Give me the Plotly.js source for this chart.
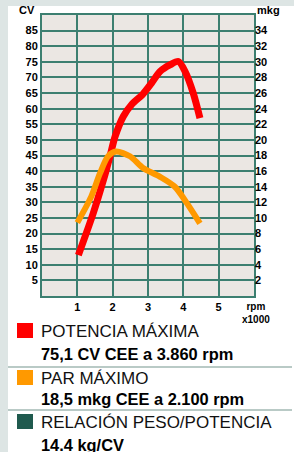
<!DOCTYPE html>
<html>
<head>
<meta charset="utf-8">
<script src="https://cdn.plot.ly/plotly-3.0.1.min.js"></script>
<style>
html,body{margin:0;padding:0;background:#dde5e4;width:294px;height:452px;overflow:hidden;}
#panel{position:absolute;left:8px;top:6px;width:286px;height:446px;background:#ffffff;}
#chart{position:absolute;left:0;top:0;width:294px;height:452px;}
</style>
</head>
<body>
<div id="panel"></div>
<div id="chart"></div>
<script>
// Data (rpm in thousands)
const potenciaRpm = [1.03, 1.45, 1.74, 1.92, 2.07, 2.3, 2.55, 2.85, 3.1, 3.34, 3.62, 3.86, 4.05, 4.28, 4.47];
const potenciaCV  = [13.1, 26.5, 37.2, 44.6, 51.1, 57.5, 61.5, 64.6, 68.2, 71.9, 74.0, 75.1, 71.9, 65.0, 57.0];
const parRpm = [1.0, 1.39, 1.64, 1.87, 2.1, 2.49, 2.86, 3.33, 3.76, 4.1, 4.47];
const parMkg = [9.4, 12.7, 15.7, 17.9, 18.5, 17.9, 16.4, 15.3, 14.0, 11.9, 9.3];
const xTicks = [1, 2, 3, 4, 5];
const cvTicks = [5,10,15,20,25,30,35,40,45,50,55,60,65,70,75,80,85];
const mkgTicks = [2,4,6,8,10,12,14,16,18,20,22,24,26,28,30,32,34];
const legendItems = [
  {label: "POTENCIA MÁXIMA", value: "75,1 CV CEE a 3.860 rpm", color: "#ff0000"},
  {label: "PAR MÁXIMO", value: "18,5 mkg CEE a 2.100 rpm", color: "#ff9900"},
  {label: "RELACIÓN PESO/POTENCIA", value: "14.4 kg/CV", color: "#1f5a4e"}
];

// plot area geometry (pixels)
const L = 42, R = 254, T = 15, B = 296, W = 294, H = 452;
const px = x => (x - L) / (R - L);
const py = y => (B - y) / (B - T);

const gridColor = "#3c7f70";
const tickFont = {family: "Liberation Sans, Arial, sans-serif", size: 11, color: "#000", weight: 700};

const traces = [
  {x: parRpm, y: parMkg, yaxis: "y2", mode: "lines", line: {color: "#ff9900", width: 6, shape: "spline", smoothing: 0.8}, hoverinfo: "skip"},
  {x: potenciaRpm, y: potenciaCV, mode: "lines", line: {color: "#ff0000", width: 7, shape: "spline", smoothing: 0.8}, hoverinfo: "skip"}
];

const shapes = [];
const annotations = [];
const rowY = [[331, 354], [378, 399], [422, 445]];
const sepY = [367, 410];
legendItems.forEach((it, i) => {
  const [y1, y2] = rowY[i];
  shapes.push({type: "rect", xref: "paper", yref: "paper", x0: px(17), x1: px(33), y0: py(y1 - 8), y1: py(y1 + 7), fillcolor: it.color, line: {width: 0}});
  annotations.push({xref: "paper", yref: "paper", x: px(39), y: py(y1), xanchor: "left", yanchor: "middle", showarrow: false, text: it.label,
    font: {family: "Liberation Sans Narrow, Arial Narrow, Liberation Sans, sans-serif", size: 17, color: "#111"}});
  annotations.push({xref: "paper", yref: "paper", x: px(39), y: py(y2), xanchor: "left", yanchor: "middle", showarrow: false, text: it.value,
    font: {family: "Liberation Sans, Arial, sans-serif", size: 16.4, color: "#000", weight: 700}});
});
sepY.forEach(y => shapes.push({type: "line", xref: "paper", yref: "paper", x0: px(8), x1: px(292), y0: py(y), y1: py(y), line: {color: "#b9cac6", width: 2}}));

annotations.push({xref: "paper", yref: "paper", x: px(27), y: py(10), xanchor: "center", yanchor: "middle", showarrow: false, text: "CV", font: tickFont});
annotations.push({xref: "paper", yref: "paper", x: px(268), y: py(10), xanchor: "center", yanchor: "middle", showarrow: false, text: "mkg", font: tickFont});
annotations.push({xref: "paper", yref: "paper", x: px(256), y: py(313), xanchor: "center", yanchor: "middle", showarrow: false, text: "rpm<br>x1000",
  font: {family: "Liberation Sans, Arial, sans-serif", size: 10, color: "#000", weight: 700}});

const layout = {
  width: W, height: H,
  margin: {l: L, r: W - R, t: T, b: H - B, pad: 0},
  paper_bgcolor: "rgba(0,0,0,0)",
  plot_bgcolor: "#ebe7e3",
  showlegend: false,
  xaxis: {range: [0, 6], tickvals: xTicks, ticktext: xTicks.map(String), showgrid: true, gridcolor: gridColor, gridwidth: 2,
    zeroline: false, showline: true, linecolor: gridColor, linewidth: 2, mirror: true, ticks: "", ticklen: 0, tickfont: tickFont, fixedrange: true},
  yaxis: {range: [0, 90], tickvals: cvTicks, ticktext: cvTicks.map(String), showgrid: true, gridcolor: gridColor, gridwidth: 2,
    zeroline: false, showline: true, linecolor: gridColor, linewidth: 2, mirror: true, ticks: "", tickfont: tickFont, fixedrange: true},
  yaxis2: {range: [0, 36], overlaying: "y", side: "right", tickvals: mkgTicks, ticktext: mkgTicks.map(String), showgrid: false,
    zeroline: false, showline: false, ticks: "", tickfont: tickFont, fixedrange: true},
  shapes: shapes,
  annotations: annotations
};

Plotly.newPlot("chart", traces, layout, {staticPlot: true, displayModeBar: false});
</script>
</body>
</html>
